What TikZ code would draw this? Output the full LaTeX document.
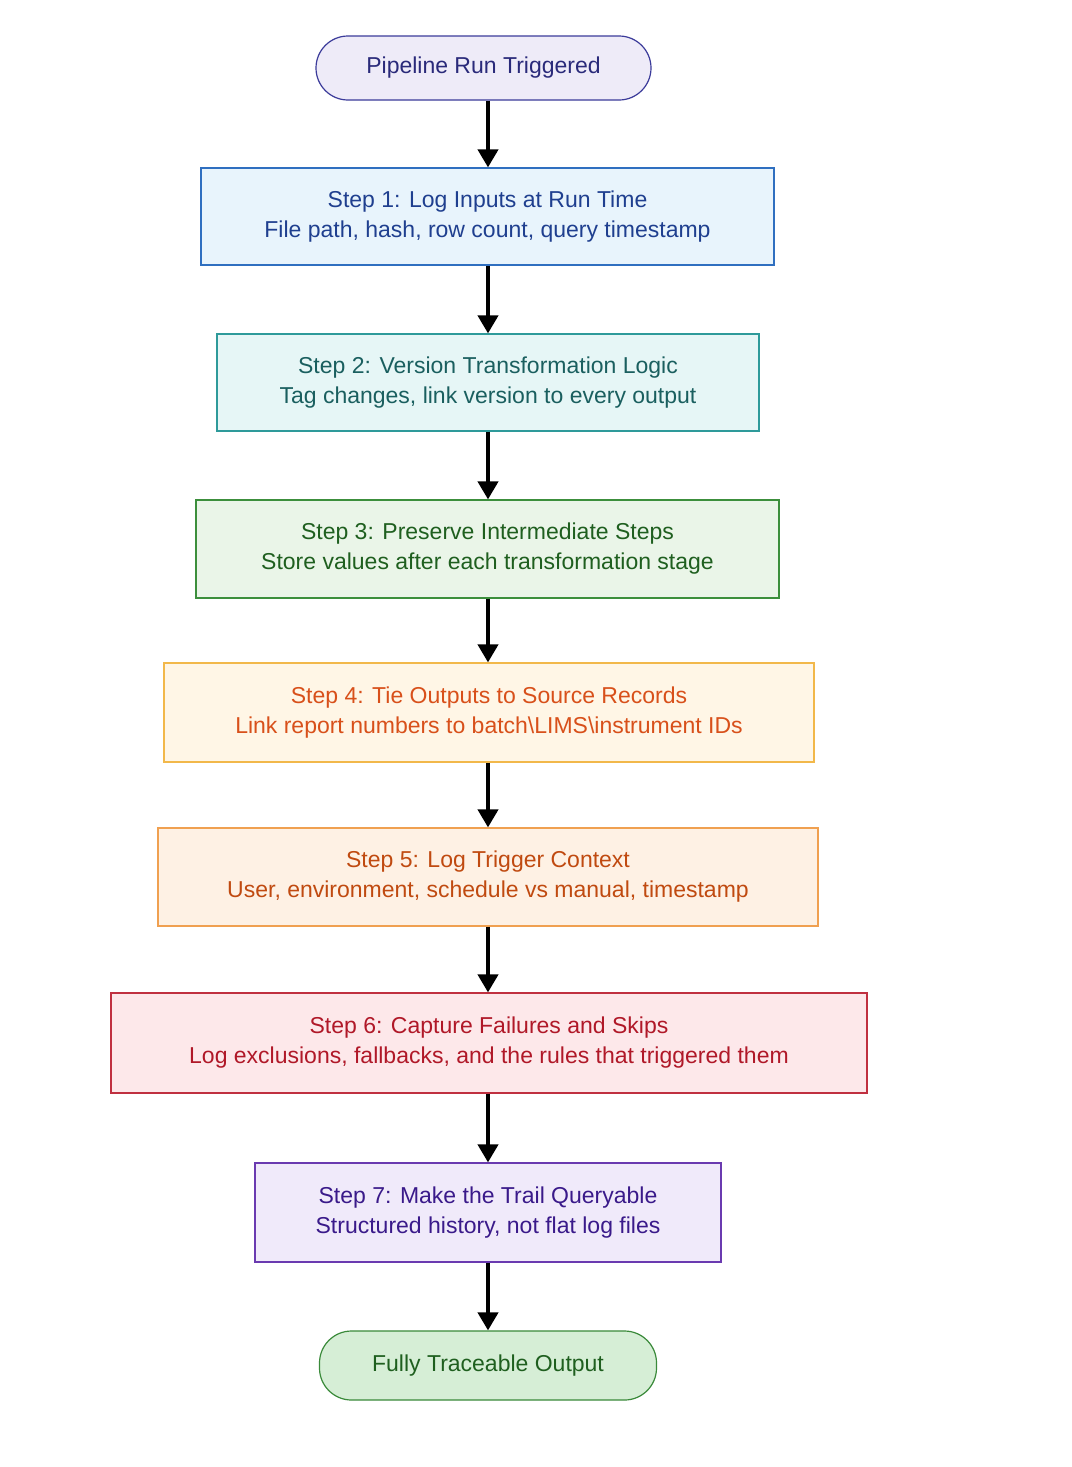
\documentclass[tikz,border=0pt]{standalone}
\usepackage{fontspec}
\setmainfont{Liberation Sans}
\usetikzlibrary{arrows.meta}
\definecolor{c0f}{HTML}{EEEBF8}\definecolor{c0d}{HTML}{3B3B9A}\definecolor{c0t}{HTML}{2A2A7A}
\definecolor{c1f}{HTML}{E8F4FC}\definecolor{c1d}{HTML}{2F6FC0}\definecolor{c1t}{HTML}{1F3F8F}
\definecolor{c2f}{HTML}{E6F6F6}\definecolor{c2d}{HTML}{2E9A9A}\definecolor{c2t}{HTML}{1A5F5F}
\definecolor{c3f}{HTML}{EAF5E8}\definecolor{c3d}{HTML}{3C8F3C}\definecolor{c3t}{HTML}{1F5F1F}
\definecolor{c4f}{HTML}{FFF6E6}\definecolor{c4d}{HTML}{F2B84A}\definecolor{c4t}{HTML}{D8501A}
\definecolor{c5f}{HTML}{FEF1E4}\definecolor{c5d}{HTML}{F0A050}\definecolor{c5t}{HTML}{C04A10}
\definecolor{c6f}{HTML}{FDE8EA}\definecolor{c6d}{HTML}{C03040}\definecolor{c6t}{HTML}{B01828}
\definecolor{c7f}{HTML}{F0EAFA}\definecolor{c7d}{HTML}{6A3AB0}\definecolor{c7t}{HTML}{3A1A8A}
\definecolor{c8f}{HTML}{D6EED6}\definecolor{c8d}{HTML}{3A8A3A}\definecolor{c8t}{HTML}{1F5F1F}
\begin{document}
\begin{tikzpicture}[x=1pt,y=-1pt,
  base/.style={line width=1.2pt,align=center,inner sep=0pt,
    font=\fontsize{23}{30}\selectfont},
  pill/.style={base,rounded corners=32pt},
  stepbox/.style={base},
  arr/.style={line width=4pt,-{Triangle[length=18pt,width=20pt]}}]
\useasboundingbox[fill=white] (0,0) rectangle (1071,1467);
\node[pill,fill=c0f,draw=c0d,text=c0t,minimum width=335pt,minimum height=64pt] (s) at (483.5,68) {Pipeline Run Triggered};
\node[stepbox,fill=c1f,draw=c1d,text=c1t,minimum width=573pt,minimum height=97pt] (a1) at (487.5,216.5) {Step 1: Log Inputs at Run Time\\File path, hash, row count, query timestamp};
\node[stepbox,fill=c2f,draw=c2d,text=c2t,minimum width=542pt,minimum height=97pt] (a2) at (488,382.5) {Step 2: Version Transformation Logic\\Tag changes, link version to every output};
\node[stepbox,fill=c3f,draw=c3d,text=c3t,minimum width=583pt,minimum height=98pt] (a3) at (487.5,549) {Step 3: Preserve Intermediate Steps\\Store values after each transformation stage};
\node[stepbox,fill=c4f,draw=c4d,text=c4t,minimum width=650pt,minimum height=99pt] (a4) at (489,712.5) {Step 4: Tie Outputs to Source Records\\Link report numbers to batch\textbackslash LIMS\textbackslash instrument IDs};
\node[stepbox,fill=c5f,draw=c5d,text=c5t,minimum width=660pt,minimum height=98pt] (a5) at (488,877) {Step 5: Log Trigger Context\\User, environment, schedule vs manual, timestamp};
\node[stepbox,fill=c6f,draw=c6d,text=c6t,minimum width=756pt,minimum height=100pt] (a6) at (489,1043) {Step 6: Capture Failures and Skips\\Log exclusions, fallbacks, and the rules that triggered them};
\node[stepbox,fill=c7f,draw=c7d,text=c7t,minimum width=466pt,minimum height=99pt] (a7) at (488,1212.5) {Step 7: Make the Trail Queryable\\Structured history, not flat log files};
\node[pill,fill=c8f,draw=c8d,text=c8t,minimum width=337pt,minimum height=69pt] (e) at (488,1365.5) {Fully Traceable Output};
\foreach \p/\q in {s/a1,a1/a2,a2/a3,a3/a4,a4/a5,a5/a6,a6/a7,a7/e}
  \draw[arr] (\p.south -| 488,0) -- (\q.north -| 488,0);
\end{tikzpicture}
\end{document}
